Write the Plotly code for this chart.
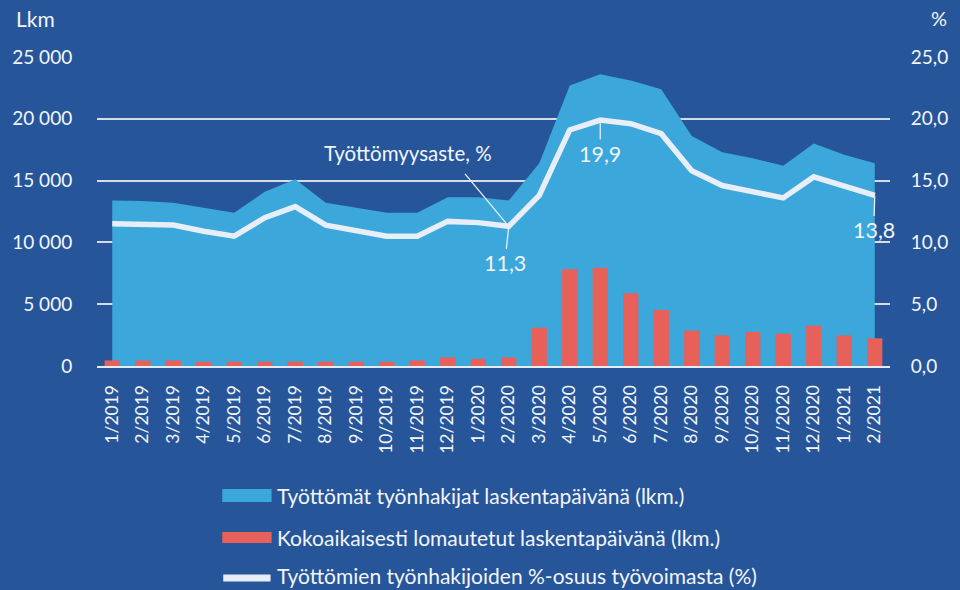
import plotly.graph_objects as go

# ---------------- data ----------------
months = ["1/2019", "2/2019", "3/2019", "4/2019", "5/2019", "6/2019", "7/2019",
          "8/2019", "9/2019", "10/2019", "11/2019", "12/2019", "1/2020", "2/2020",
          "3/2020", "4/2020", "5/2020", "6/2020", "7/2020", "8/2020", "9/2020",
          "10/2020", "11/2020", "12/2020", "1/2021", "2/2021"]

unemployed = [13400, 13350, 13200, 12800, 12400, 14100, 15100, 13200, 12800, 12400,
              12400, 13650, 13650, 13400, 16400, 22700, 23600, 23100, 22400, 18600,
              17300, 16800, 16200, 18000, 17100, 16400]

laid_off = [450, 450, 450, 350, 350, 350, 350, 350, 350, 350, 450, 700, 570, 700,
            3100, 7820, 7950, 5880, 4530, 2860, 2480, 2750, 2610, 3260, 2480, 2240]

rate_pct = [11.5, 11.4, 11.4, 10.9, 10.5, 12.0, 12.9, 11.4, 10.9, 10.5, 10.5, 11.7,
            11.6, 11.3, 13.8, 19.1, 19.9, 19.6, 18.8, 15.8, 14.6, 14.1, 13.6, 15.3,
            14.5, 13.8]

left_ticks = [0, 5000, 10000, 15000, 20000, 25000]
right_ticks = [0, 5, 10, 15, 20, 25]

series_names = ["Työttömät työnhakijat laskentapäivänä (lkm.)",
                "Kokoaikaisesti lomautetut laskentapäivänä (lkm.)",
                "Työttömien työnhakijoiden %-osuus työvoimasta (%)"]

callout_title = "Työttömyysaste, %"
callout_months = ["2/2020", "5/2020", "2/2021"]

# ---------------- style ----------------
BG = "#27559a"
AREA = "#3ba7da"
RED = "#e8605a"
LINE = "#e8eef8"
TXT = "#f2f5fa"
GRID = "#d6dde9"
FONT = "Lato"

W, H = 960, 590
L, R, T, B = 90, 66, 57, 224
PW, PH = W - L - R, H - T - B


def px(x):
    return (x - L) / PW


def py(y):
    return (H - B - y) / PH


fig = go.Figure()

fig.add_trace(go.Scatter(x=months, y=unemployed, mode="lines", fill="tozeroy",
                         fillcolor=AREA, line=dict(color=AREA, width=0),
                         name=series_names[0], showlegend=False,
                         xaxis="x", yaxis="y"))
fig.add_trace(go.Bar(x=months, y=laid_off, marker=dict(color=RED, line=dict(width=0)),
                     width=0.5, name=series_names[1], showlegend=False,
                     xaxis="x", yaxis="y3"))
fig.add_trace(go.Scatter(x=months, y=rate_pct, mode="lines",
                         line=dict(color=LINE, width=5.5),
                         name=series_names[2], showlegend=False,
                         xaxis="x", yaxis="y2"))

fig.update_layout(
    width=W, height=H, autosize=False,
    margin=dict(l=L, r=R, t=T, b=B),
    paper_bgcolor=BG, plot_bgcolor=BG,
    font=dict(family=FONT, color=TXT, size=19),
    separators=", ",
    xaxis=dict(type="category", range=[-0.5, len(months) - 0.5],
               tickangle=-90, tickfont=dict(size=17.5, color=TXT),
               ticks="outside", ticklen=10, tickcolor="rgba(0,0,0,0)",
               showgrid=False, showline=True, linecolor="#e6ecf5", linewidth=2,
               zeroline=False),
    yaxis=dict(range=[0, 25000], tickvals=left_ticks, tickformat=",d",
               showgrid=True, gridcolor=GRID, gridwidth=2,
               ticks="outside", ticklen=20, tickcolor="rgba(0,0,0,0)",
               zeroline=False, showline=False, tickfont=dict(size=19, color=TXT)),
    yaxis2=dict(range=[0, 25], tickvals=right_ticks, tickformat=".1f",
                overlaying="y", side="right", showgrid=False, zeroline=False,
                ticks="outside", ticklen=16, tickcolor="rgba(0,0,0,0)",
                tickfont=dict(size=19, color=TXT)),
    yaxis3=dict(range=[0, 25000], overlaying="y", visible=False),
    bargap=0.5,
)

ann = []
# axis unit labels
ann.append(dict(text="Lkm", xref="paper", yref="paper", x=px(6), y=py(19),
                xanchor="left", yanchor="middle", showarrow=False,
                font=dict(size=21, color=TXT)))
ann.append(dict(text="%", xref="paper", yref="paper", x=px(944), y=py(18),
                xanchor="center", yanchor="middle", showarrow=False,
                font=dict(size=20, color=TXT)))

# value callouts
i0 = months.index(callout_months[0])
i1 = months.index(callout_months[1])
i2 = months.index(callout_months[2])
val_fmt = lambda v: f"{v:.1f}".replace(".", ",")
for idx, ax, ay in [(i0, -4, 37), (i1, 0, 34), (i2, -1, 35)]:
    ann.append(dict(text=val_fmt(rate_pct[idx]), x=months[idx], y=rate_pct[idx],
                    xref="x", yref="y2", showarrow=True, ax=ax, ay=ay,
                    arrowhead=0, arrowwidth=1.3, arrowcolor=LINE, standoff=0,
                    font=dict(size=21.5, color=TXT)))

# series title callout with leader line
ann.append(dict(text=callout_title, xref="paper", yref="paper", x=px(405), y=py(153),
                xanchor="center", yanchor="middle", showarrow=False,
                font=dict(size=20.5, color=TXT)))
ann.append(dict(text="", x=months[i0], y=rate_pct[i0], xref="x", yref="y2",
                showarrow=True, ax=-45, ay=-54, arrowhead=0, arrowwidth=1.3,
                arrowcolor=LINE, standoff=0))

# manual legend
shapes = []
leg_rows = [495, 537, 575]
shapes.append(dict(type="rect", xref="paper", yref="paper",
                   x0=px(217), x1=px(267), y0=py(502), y1=py(489),
                   fillcolor=AREA, line=dict(width=0)))
shapes.append(dict(type="rect", xref="paper", yref="paper",
                   x0=px(217), x1=px(267), y0=py(543), y1=py(532),
                   fillcolor=RED, line=dict(width=0)))
shapes.append(dict(type="line", xref="paper", yref="paper",
                   x0=px(218), x1=px(266), y0=py(578), y1=py(578),
                   line=dict(color=LINE, width=7)))
for name, yy in zip(series_names, leg_rows):
    ann.append(dict(text=name, xref="paper", yref="paper", x=px(270), y=py(yy),
                    xanchor="left", yanchor="middle", showarrow=False,
                    font=dict(size=21, color=TXT)))

fig.update_layout(annotations=ann, shapes=shapes)

fig.write_html("out.html", config={"displayModeBar": False},
               post_script="document.body.style.margin='0';")
